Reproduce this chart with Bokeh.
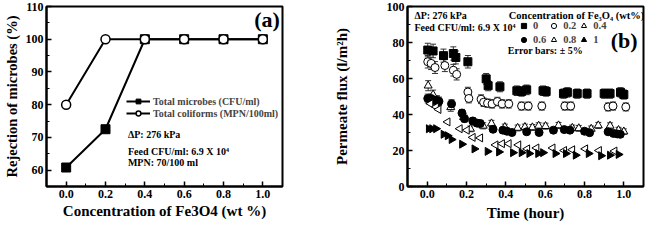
import math
from bokeh.plotting import figure
from bokeh.layouts import row
from bokeh.models import (ColumnDataSource, Whisker, TeeHead, Legend, LegendItem,
                          Label, FixedTicker, Range1d, CustomJSTickFormatter)
from bokeh.embed import file_html
from bokeh.resources import INLINE

# ---------------- data: panel (a) ----------------
conc = [0.0, 0.2, 0.4, 0.6, 0.8, 1.0]
microbes = [60.8, 72.5, 100, 100, 100, 100]
coliforms = [80, 100, 100, 100, 100, 100]

# ---------------- data: panel (b) ----------------
t_0 = [0.003, 0.03, 0.083, 0.133, 0.146, 0.207, 0.30, 0.31, 0.37, 0.456, 0.48, 0.506,
       0.589, 0.605, 0.693, 0.713, 0.763, 0.813, 0.90, 0.93, 0.983, 1.0]
f_0 = [75.8, 75.3, 72.7, 73.9, 71.7, 69.3, 59.8, 56.0, 55.4, 53.2, 52.8, 53.7,
       53.2, 52.8, 51.6, 52.3, 51.6, 51.6, 51.6, 51.6, 52.3, 51.1]

t_02 = [0.003, 0.02, 0.04, 0.09, 0.133, 0.15, 0.207, 0.212, 0.274, 0.287, 0.307, 0.33,
        0.357, 0.381, 0.415, 0.48, 0.514, 0.583, 0.70, 0.73, 0.92, 0.945, 1.01]
f_02 = [69.3, 68.4, 66.1, 67.2, 64.6, 62.3, 52.5, 48.9, 48.5, 46.8, 46.3, 45.9,
        47.2, 45.9, 45.9, 44.7, 44.7, 44.7, 44.7, 44.7, 44.2, 44.7, 44.2]

t_04 = [0.005, 0.03, 0.05, 0.12, 0.185, 0.22, 0.285, 0.327, 0.395, 0.46, 0.497, 0.535,
        0.567, 0.602, 0.668, 0.738, 0.771, 0.834, 0.87, 0.93, 0.973, 1.0]
f_04 = [56.0, 51.0, 48.0, 44.0, 38.5, 32.0, 33.7, 35.0, 33.0, 32.5, 33.0, 32.8,
        33.7, 33.5, 33.9, 32.5, 32.3, 32.0, 33.9, 33.7, 31.3, 30.5]

t_06 = [0.003, 0.02, 0.035, 0.05, 0.06, 0.124, 0.177, 0.19, 0.232, 0.254, 0.27, 0.335,
        0.385, 0.406, 0.431, 0.506, 0.569, 0.642, 0.697, 0.726, 0.80, 0.826, 0.92,
        0.947, 0.967, 0.982]
f_06 = [48.9, 48.9, 48.0, 47.7, 47.3, 45.9, 40.8, 37.7, 36.4, 35.2, 35.0, 31.8,
        31.3, 30.7, 30.0, 30.4, 30.0, 31.3, 31.6, 31.3, 30.7, 29.9, 30.4,
        29.5, 29.2, 29.0]

t_08 = [0.017, 0.045, 0.058, 0.104, 0.166, 0.202, 0.232, 0.27, 0.348, 0.381, 0.415,
        0.464, 0.509, 0.556, 0.638, 0.697, 0.738, 0.804, 0.874, 0.953]
f_08 = [46.0, 44.2, 42.8, 35.9, 32.1, 31.3, 27.3, 27.0, 23.1, 23.8, 23.8,
        23.1, 20.9, 21.4, 21.4, 20.0, 20.4, 20.9, 20.0, 19.7]

t_1 = [0.008, 0.025, 0.045, 0.083, 0.104, 0.124, 0.177, 0.24, 0.307, 0.365, 0.436,
       0.48, 0.519, 0.564, 0.589, 0.652, 0.705, 0.755, 0.821, 0.884, 0.929, 0.973]
f_1 = [32.1, 32.1, 32.1, 29.0, 28.2, 26.1, 23.5, 20.9, 19.5, 19.2, 18.8,
       18.8, 18.3, 18.3, 18.8, 18.3, 18.3, 17.4, 18.3, 17.1, 17.4, 17.8]

FONT = "Liberation Serif"


def style(p, xticks, xminor, yticks, yminor):
    p.xgrid.visible = False
    p.ygrid.visible = False
    p.outline_line_color = "black"
    p.outline_line_width = 2
    p.outline_line_alpha = 1
    p.background_fill_color = "white"
    p.border_fill_color = "white"
    p.title.visible = False
    p.xaxis.ticker = FixedTicker(ticks=xticks, minor_ticks=xminor)
    p.yaxis.ticker = FixedTicker(ticks=yticks, minor_ticks=yminor)
    for ax in (p.xaxis[0], p.yaxis[0]):
        ax.axis_line_width = 2
        ax.axis_line_color = "black"
        ax.major_tick_in = 5
        ax.major_tick_out = 0
        ax.minor_tick_in = 3
        ax.minor_tick_out = 0
        ax.major_tick_line_width = 1.5
        ax.minor_tick_line_width = 1
        ax.major_tick_line_color = "black"
        ax.minor_tick_line_color = "black"
        ax.major_label_standoff = 3
        ax.major_label_text_font = FONT
        ax.major_label_text_font_style = "bold"
        ax.major_label_text_font_size = "12px"
        ax.major_label_text_color = "black"
        ax.axis_label_text_font = FONT
        ax.axis_label_text_font_style = "bold"
        ax.axis_label_text_font_size = "15px"
        ax.axis_label_text_color = "black"


def add_text(p, x, y, text, size="10px", align="left"):
    p.add_layout(Label(x=x, y=y, text=text, text_font=FONT, text_font_style="bold",
                       text_font_size=size, text_color="black", text_align=align,
                       text_baseline="middle"))


# ---------------- panel (a) ----------------
pa = figure(width=316, height=230, output_backend="svg", toolbar_location=None,
            x_range=Range1d(-0.1, 1.1), y_range=Range1d(55, 110),
            min_border_left=42, min_border_right=34, min_border_top=6, min_border_bottom=40)
style(pa, conc, [0.1, 0.3, 0.5, 0.7, 0.9], [60, 70, 80, 90, 100, 110],
      [55, 65, 75, 85, 95, 105])
pa.xaxis.axis_label = "Concentration of Fe3O4 (wt %)"
pa.yaxis.axis_label = "Rejection of microbes (%)"
pa.xaxis.formatter = CustomJSTickFormatter(code="return tick.toFixed(1);")
pa.yaxis.axis_label_standoff = 3
pa.xaxis.axis_label_standoff = 2
pa.yaxis.axis_label_text_font_size = "14.5px"

src_a = ColumnDataSource(dict(x=conc, m=microbes, c=coliforms))
lm = pa.line("x", "m", source=src_a, line_color="black", line_width=2)
sm = pa.scatter("x", "m", source=src_a, marker="square", size=9, fill_color="black",
                line_color="black")
lc = pa.line("x", "c", source=src_a, line_color="black", line_width=2)
sc = pa.scatter("x", "c", source=src_a, marker="circle", size=9, fill_color="white",
                line_color="black", line_width=1.5)

leg_a = Legend(items=[LegendItem(label="Total microbes (CFU/ml)", renderers=[lm, sm]),
                      LegendItem(label="Total coliforms (MPN/100ml)", renderers=[lc, sc])],
               location=(80, 67), background_fill_alpha=0, border_line_alpha=0,
               label_text_font=FONT, label_text_font_style="bold",
               label_text_font_size="10px", glyph_width=24, glyph_height=12,
               label_standoff=3, spacing=0, padding=0, margin=0, label_height=12)
pa.add_layout(leg_a)

add_text(pa, 0.314, 70.8, "ΔP: 276 kPa")
add_text(pa, 0.314, 65.6, "Feed CFU/ml: 6.9 X 10⁴")
add_text(pa, 0.314, 62.2, "MPN: 70/100 ml")
add_text(pa, 1.087, 106.0, "(a)", size="22px", align="right")

# ---------------- panel (b) ----------------
pb = figure(width=329, height=230, output_backend="svg", toolbar_location=None,
            x_range=Range1d(-0.1, 1.1), y_range=Range1d(0, 100),
            min_border_left=91, min_border_right=2, min_border_top=6, min_border_bottom=44)
style(pb, [0.0, 0.2, 0.4, 0.6, 0.8, 1.0], [-0.1, 0.1, 0.3, 0.5, 0.7, 0.9],
      [0, 20, 40, 60, 80, 100], [10, 30, 50, 70, 90])
pb.xaxis.formatter = CustomJSTickFormatter(code="return tick.toFixed(1);")
pb.xaxis.axis_label = "Time (hour)"
pb.yaxis.axis_label = "Permeate flux (l/m²h)"
pb.yaxis.axis_label_standoff = 34
pb.xaxis.axis_label_standoff = 4

series = [
    (t_0, f_0, "square", "black", 0.0, "0", True),
    (t_02, f_02, "circle", "white", 0.0, "0.2", True),
    (t_04, f_04, "triangle", "white", 0.0, "0.4", True),
    (t_06, f_06, "circle", "black", 0.0, "0.6", True),
    (t_08, f_08, "triangle", "white", math.pi / 2, "0.8", False),
    (t_1, f_1, "triangle", "black", -math.pi / 2, "1", False),
]
items = []
for t, f, mk, fill, ang, lab, bars in series:
    src = ColumnDataSource(dict(t=t, f=f, up=[v * 1.05 for v in f],
                                lo=[v * 0.95 for v in f], ang=[ang] * len(t)))
    if bars:
        w = Whisker(base="t", upper="up", lower="lo", source=src, dimension="height",
                    line_color="#333333", line_width=1, level="underlay",
                    upper_head=TeeHead(size=6, line_color="#333333", line_width=1),
                    lower_head=TeeHead(size=6, line_color="#333333", line_width=1))
        pb.add_layout(w)
    r = pb.scatter("t", "f", source=src, marker=mk, angle="ang", size=8,
                   fill_color=fill, line_color="black", line_width=1)
    items.append(LegendItem(label=lab, renderers=[r], index=0))

leg_b = Legend(items=items, orientation="horizontal", ncols=3,
               location=(110, 140), background_fill_alpha=0, border_line_alpha=0,
               label_text_font=FONT, label_text_font_style="bold",
               label_text_font_size="10.5px", glyph_width=13, glyph_height=13,
               label_standoff=3, label_width=12, spacing=1, padding=0, margin=0,
               label_height=10)
pb.add_layout(leg_b)

add_text(pb, -0.065, 95.2, "ΔP: 276 kPa")
add_text(pb, -0.065, 88.3, "Feed CFU/ml: 6.9 X 10⁴")
add_text(pb, 0.415, 95.2, "Concentration of Fe₃O₄ (wt%)", size="10.5px")
add_text(pb, 0.41, 75.3, "Error bars: ± 5%")
add_text(pb, 1.07, 81.3, "(b)", size="22px", align="right")

layout = row(pa, pb, spacing=0)
open("out.html", "w").write(file_html(layout, INLINE))
